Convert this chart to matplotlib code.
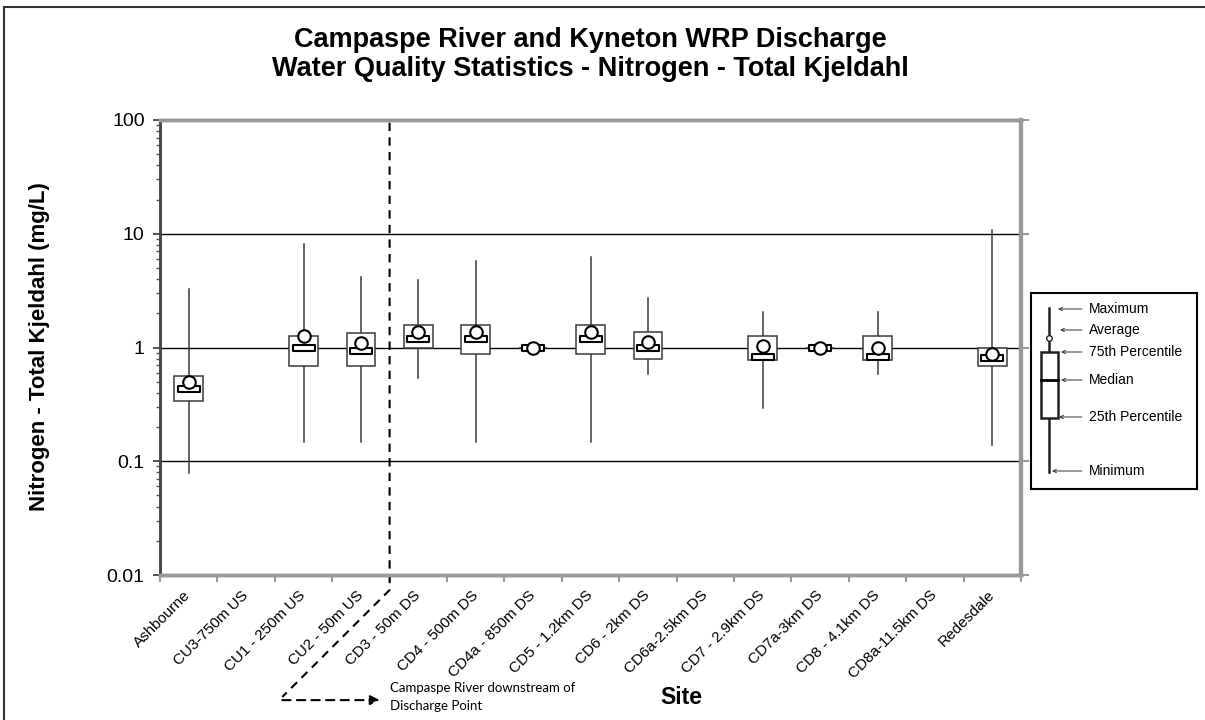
import numpy as np
import matplotlib
matplotlib.use("Agg")
import matplotlib.pyplot as plt
import matplotlib.transforms as mtransforms
from matplotlib.lines import Line2D
from matplotlib.path import Path
from matplotlib.ticker import LogLocator, NullFormatter, FixedLocator

plt.rcParams['font.family'] = ['Liberation Sans', 'DejaVu Sans']

sites = ['Ashbourne', 'CU3-750m US', 'CU1 - 250m US', 'CU2 - 50m US', 'CD3 - 50m DS',
         'CD4 - 500m DS', 'CD4a - 850m DS', 'CD5 - 1.2km DS', 'CD6 - 2km DS',
         'CD6a-2.5km DS', 'CD7 - 2.9km DS', 'CD7a-3km DS', 'CD8 - 4.1km DS',
         'CD8a-11.5km DS', 'Redesdale']
nan = np.nan
minimum = [0.079, nan, 0.147, 0.147, 0.54, 0.147, 1.0, 0.147, 0.59, nan, 0.295, 1.0, 0.59, nan, 0.14]
q1 = [0.342, nan, 0.685, 0.685, 1.0, 0.88, 1.0, 0.88, 0.785, nan, 0.78, 1.0, 0.78, nan, 0.685]
median = [0.43, nan, 1.0, 0.935, 1.18, 1.18, 1.0, 1.18, 0.98, nan, 0.83, 1.0, 0.83, nan, 0.81]
q3 = [0.56, nan, 1.27, 1.35, 1.57, 1.58, 1.0, 1.57, 1.37, nan, 1.27, 1.0, 1.25, nan, 1.0]
maximum = [3.3, nan, 8.2, 4.2, 3.9, 5.8, 1.0, 6.2, 2.75, nan, 2.05, 1.0, 2.05, nan, 10.7]
mean = [0.50, nan, 1.25, 1.10, 1.36, 1.38, 1.0, 1.36, 1.11, nan, 1.03, 1.0, 1.0, nan, 0.88]

W, H = 1205, 720
fig = plt.figure(figsize=(W / 100, H / 100), dpi=100)
ax = fig.add_axes([160 / W, 1 - 575 / H, (1021 - 160) / W, (575 - 120) / H])

x = np.arange(len(sites))
# median marker: flat outlined bar
bar = Path([(-1, -0.23), (1, -0.23), (1, 0.23), (-1, 0.23), (-1, -0.23)],
           [Path.MOVETO, Path.LINETO, Path.LINETO, Path.LINETO, Path.CLOSEPOLY])

for i in x:
    if np.isnan(median[i]):
        continue
    ax.plot([i, i], [minimum[i], maximum[i]], color='#3a3a3a', lw=1.1, zorder=3)
    ax.bar(i, q3[i] - q1[i], bottom=q1[i], width=0.5, facecolor='white',
           edgecolor='#3a3a3a', lw=1.1, zorder=4)
    ax.plot(i, median[i], marker=bar, ms=16, mfc='white', mec='black', mew=1.5, zorder=5)
    ax.plot(i, mean[i], marker='o', ms=9, mfc='white', mec='black', mew=1.5, zorder=6)

ax.set_yscale('log')
ax.set_ylim(0.01, 100)
ax.set_xlim(-0.5, len(sites) - 0.5)
ax.yaxis.set_major_locator(FixedLocator([0.01, 0.1, 1, 10, 100]))
ax.set_yticklabels(['0.01', '0.1', '1', '10', '100'])
ax.yaxis.set_minor_locator(LogLocator(base=10, subs=np.arange(2, 10)))
ax.yaxis.set_minor_formatter(NullFormatter())
ax.tick_params(axis='y', which='major', length=5, width=1.2, labelsize=14, pad=6, color='#333333')
ax.tick_params(axis='y', which='minor', length=3, width=1, color='#555555')
ax.grid(axis='y', which='major', color='black', lw=1, zorder=1)

ax.set_xticks(np.arange(-0.5, len(sites)), minor=False)
ax.set_xticklabels([])
ax.set_xticks(x, minor=True)
ax.set_xticklabels(sites, minor=True, rotation=45, ha='right', va='center',
                   rotation_mode='anchor', fontsize=11)
ax.tick_params(axis='x', which='major', length=5, width=1.5, color='#999999')
ax.tick_params(axis='x', which='minor', length=0, pad=13)

# right side stubs at major gridlines
ax2 = ax.twinx()
ax2.set_yscale('log')
ax2.set_ylim(0.01, 100)
ax2.yaxis.set_major_locator(FixedLocator([0.01, 0.1, 1, 10, 100]))
ax2.yaxis.set_minor_locator(FixedLocator([]))
ax2.set_yticklabels([])
ax2.tick_params(axis='y', length=6, width=1.5, color='#999999')

for a in (ax, ax2):
    a.spines['top'].set_color('#999999')
    a.spines['top'].set_linewidth(2.5)
    a.spines['right'].set_color('#999999')
    a.spines['right'].set_linewidth(3)
    a.spines['bottom'].set_color('#999999')
    a.spines['bottom'].set_linewidth(2.5)
    a.spines['left'].set_color('#444444')
    a.spines['left'].set_linewidth(1.8)

fig.text(40 / W, 1 - 347 / H, 'Nitrogen - Total Kjeldahl (mg/L)', fontsize=16,
         fontweight='bold', rotation=90, ha='center', va='center')
fig.text(681 / W, 1 - 697 / H, 'Site', fontsize=16.5, fontweight='bold', ha='center', va='center')

fig.text(590 / W, 1 - 40 / H, 'Campaspe River and Kyneton WRP Discharge', fontsize=19.5,
         fontweight='bold', ha='center', va='center')
fig.text(590 / W, 1 - 69 / H, 'Water Quality Statistics - Nitrogen - Total Kjeldahl', fontsize=19.5,
         fontweight='bold', ha='center', va='center')

# discharge point marker
bt = mtransforms.blended_transform_factory(ax.transData, ax.transAxes)
ax.plot([3.5, 3.5, 1.63], [0.994, -0.033, -0.268], transform=bt, clip_on=False,
        color='black', lw=1.5, ls=(0, (4, 3)), zorder=7)
ax.annotate('', xy=(3.33, -0.275), xytext=(1.63, -0.275), xycoords=bt, textcoords=bt,
            arrowprops=dict(arrowstyle='-|>', color='black', lw=1.5, ls=(0, (4, 3)),
                            mutation_scale=14, shrinkA=0, shrinkB=0))
fig.text(390 / W, 1 - 688 / H, 'Campaspe River downstream of', fontsize=9.5,
         family=['Lato', 'DejaVu Sans'], ha='left', va='center')
fig.text(390 / W, 1 - 706 / H, 'Discharge Point', fontsize=9.5,
         family=['Lato', 'DejaVu Sans'], ha='left', va='center')

# key box
lx0, ly0, lx1, ly1 = 1031, 293, 1197, 489
kax = fig.add_axes([lx0 / W, 1 - ly1 / H, (lx1 - lx0) / W, (ly1 - ly0) / H])
kax.set_xlim(lx0, lx1)
kax.set_ylim(ly1, ly0)
kax.set_xticks([])
kax.set_yticks([])
for s in kax.spines.values():
    s.set_linewidth(1.5)
    s.set_color('black')
kax.plot([1049, 1049], [308, 472], color='#222222', lw=1.8)
kax.add_patch(plt.Rectangle((1041, 352), 17, 66, facecolor='white', edgecolor='#222222', lw=1.8, zorder=3))
kax.plot([1041, 1058], [380, 380], color='black', lw=2, zorder=4)
kax.plot(1049, 338, marker='o', ms=4, mfc='white', mec='#222222', mew=1, zorder=5)
key_labels = ['Maximum', 'Average', '75th Percentile', 'Median', '25th Percentile', 'Minimum']
key_y = [309, 330, 352, 380, 417, 471]
key_tip = [1058, 1060, 1061, 1061, 1059, 1052]
for lab, yy, tip in zip(key_labels, key_y, key_tip):
    kax.annotate('', xy=(tip, yy), xytext=(1082, yy),
                 arrowprops=dict(arrowstyle='->', color='#333333', lw=0.7,
                                 mutation_scale=6, shrinkA=0, shrinkB=0))
    kax.text(1089, yy, lab, fontsize=10, ha='left', va='center')

# outer frame
fig.add_artist(Line2D([4 / W, 4 / W], [0, 1 - 7 / H], color='#333333', lw=1.5))
fig.add_artist(Line2D([4 / W, 1], [1 - 7 / H, 1 - 7 / H], color='#333333', lw=1.5))

fig.savefig('out.png', dpi=100)
